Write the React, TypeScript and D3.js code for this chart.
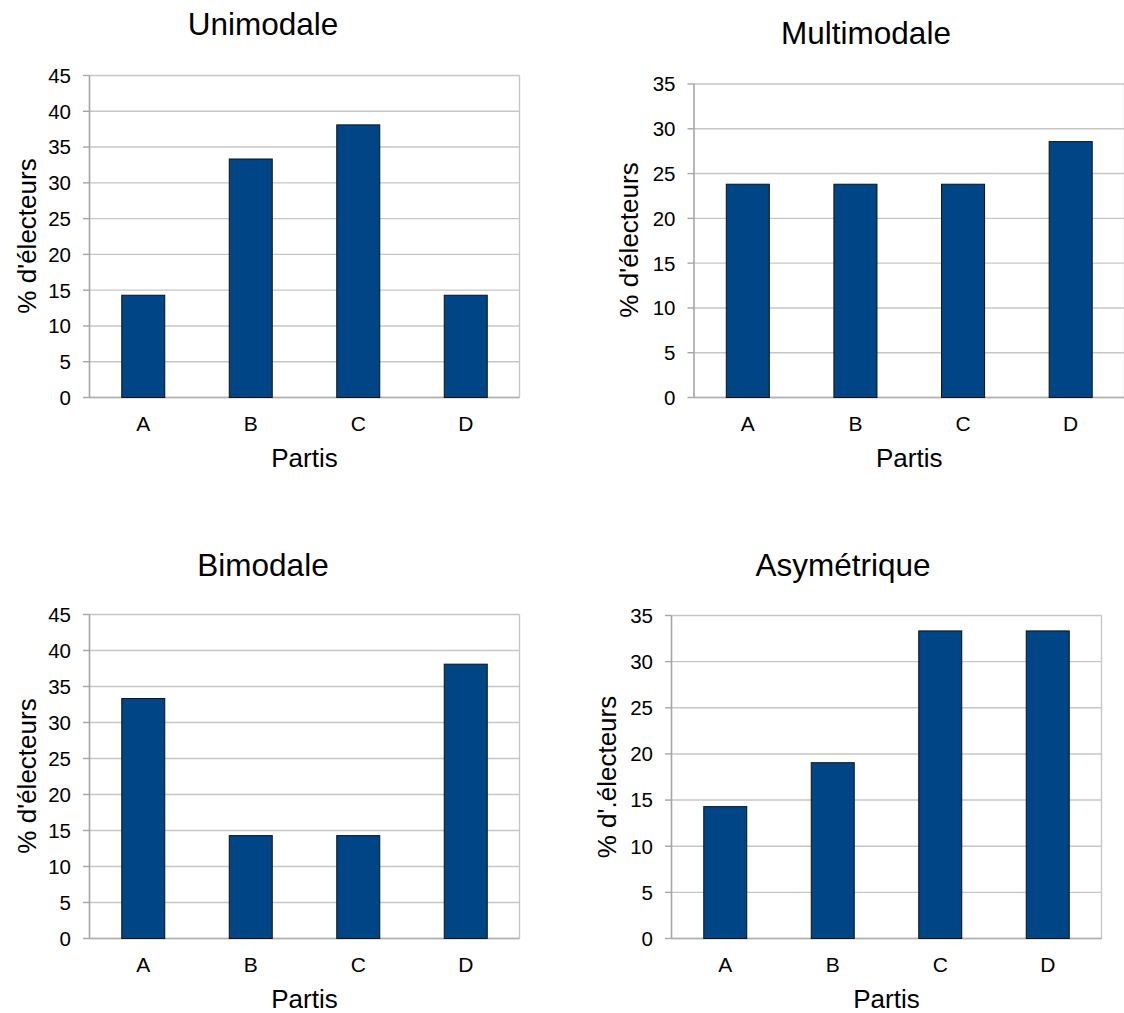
import React from "react";
import * as d3 from "d3";

const categories = ["A", "B", "C", "D"];
const unimodale = [14.29, 33.33, 38.1, 14.29];
const multimodale = [23.81, 23.81, 23.81, 28.57];
const bimodale = [33.33, 14.29, 14.29, 38.1];
const asymetrique = [14.29, 19.05, 33.33, 33.33];
const titles = ["Unimodale", "Multimodale", "Bimodale", "Asymétrique"];
const yLabels = ["% d'électeurs", "% d'électeurs", "% d'électeurs", "% d'.électeurs"];
const xLabel = "Partis";
const yMaxes = [45, 35, 45, 35];

const FONT = "'Liberation Sans', Arial, Helvetica, sans-serif";

type Layout = {
  left: number; right: number; top: number; bottom: number;
  titleX: number; titleY: number; yLabX: number; yLabY: number; xLabY: number;
};

const layouts: Layout[] = [
  { left: 89.5, right: 519.5, top: 75.5, bottom: 397.5, titleX: 263, titleY: 35, yLabX: 27, yLabY: 236, xLabY: 467 },
  { left: 694, right: 1124.5, top: 84, bottom: 397.5, titleX: 866, titleY: 43.5, yLabX: 629, yLabY: 240, xLabY: 467 },
  { left: 89.5, right: 519.5, top: 614.5, bottom: 938.5, titleX: 263, titleY: 575.5, yLabX: 27, yLabY: 776, xLabY: 1008 },
  { left: 671.5, right: 1101.5, top: 615.5, bottom: 938.5, titleX: 843, titleY: 575.5, yLabX: 607, yLabY: 777, xLabY: 1008 },
];

const series = [unimodale, multimodale, bimodale, asymetrique];

function Panel({ idx }: { idx: number }) {
  const L = layouts[idx];
  const values = series[idx];
  const yMax = yMaxes[idx];
  const x = d3.scaleBand<string>().domain(categories).range([L.left, L.right]).paddingInner(0.6).paddingOuter(0.3);
  const y = d3.scaleLinear().domain([0, yMax]).range([L.bottom, L.top]);
  const ticks = d3.range(0, yMax + 0.001, 5);
  const xc = (c: string) => (x(c) as number) + x.bandwidth() / 2;
  return (
    <g>
      {ticks.map((t) => (
        <line key={"g" + t} x1={L.left} x2={L.right} y1={y(t)} y2={y(t)} stroke="#c6c6c6" strokeWidth={1.4} />
      ))}
      <line x1={L.right} x2={L.right} y1={L.top} y2={L.bottom} stroke="#c6c6c6" strokeWidth={1.4} />
      {ticks.map((t) => (
        <line key={"t" + t} x1={L.left - 6.5} x2={L.left} y1={y(t)} y2={y(t)} stroke="#a6a6a6" strokeWidth={1.4} />
      ))}
      <line x1={L.left} x2={L.right} y1={L.bottom} y2={L.bottom} stroke="#b0b0b0" strokeWidth={1.6} />
      <line x1={L.left} x2={L.left} y1={L.top} y2={L.bottom} stroke="#a6a6a6" strokeWidth={1.6} />
      {categories.map((c, i) => (
        <rect key={c} x={x(c)} y={y(values[i])} width={x.bandwidth()} height={y(0) - y(values[i])}
          fill="#004586" stroke="#111" strokeWidth={1} />
      ))}
      {ticks.map((t) => (
        <text key={"l" + t} x={L.left - 18.5} y={y(t)} dy="0.36em" textAnchor="end" fontSize={20.5} fontFamily={FONT} fill="#000">{t}</text>
      ))}
      {categories.map((c) => (
        <text key={"c" + c} x={xc(c)} y={L.bottom + 33} textAnchor="middle" fontSize={21} fontFamily={FONT} fill="#000">{c}</text>
      ))}
      <text x={L.titleX} y={L.titleY} textAnchor="middle" fontSize={31.5} fontFamily={FONT} fill="#000">{titles[idx]}</text>
      <text x={(L.left + L.right) / 2} y={L.xLabY} textAnchor="middle" fontSize={26} fontFamily={FONT} fill="#000">{xLabel}</text>
      <text transform={`translate(${L.yLabX},${L.yLabY}) rotate(-90)`} dy="0.36em" textAnchor="middle" fontSize={26} fontFamily={FONT} fill="#000">{yLabels[idx]}</text>
    </g>
  );
}

export default function App() {
  return (
    <div style={{ position: "absolute", left: 0, top: 0 }}>
      <svg width={1124} height={1013} style={{ display: "block", background: "#fff" }}>
        <rect width={1124} height={1013} fill="#fff" />
        {[0, 1, 2, 3].map((i) => <Panel key={i} idx={i} />)}
      </svg>
    </div>
  );
}
